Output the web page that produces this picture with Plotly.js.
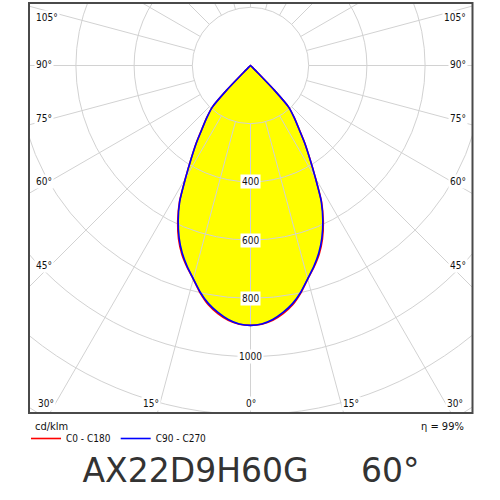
<!DOCTYPE html>
<html>
<head>
<meta charset="utf-8">
<script src="https://cdn.plot.ly/plotly-3.0.1.min.js"></script>
<style>
html, body { margin: 0; padding: 0; width: 500px; height: 500px; overflow: hidden; background: #fff; }
#wrap { position: absolute; left: 0; top: 0; width: 500px; height: 500px; overflow: hidden; }
#chart { position: absolute; left: -200px; top: -385px; width: 901px; height: 901px; }
</style>
</head>
<body>
<div id="wrap"><div id="chart"></div></div>
<script>
// ---- data ----
const gammaDeg = [0, 2.5, 5, 7.5, 10, 12.5, 15, 17.5, 20, 22.5, 25, 27.5, 30, 32.5, 35, 37.5, 40, 42.5, 44, 45, 47.5, 50, 60, 70, 80, 90];
const c0c180  = [893, 890, 879, 860, 835, 800, 760, 726, 690, 646, 592, 529, 447, 380, 325, 273, 234, 195, 120, 35, 8, 0, 0, 0, 0, 0];
const c90c270 = [893, 889, 876, 856, 831, 798, 759, 724, 686, 641, 588, 527, 446, 379, 324, 272, 233, 195, 120, 35, 8, 0, 0, 0, 0, 0];
const ringValues = [200, 400, 600, 800, 1000, 1200, 1400];
const ringLabels = ['400', '600', '800', '1000'];
const ringLabelValues = [400, 600, 800, 1000];
const gridAngles = [0, 15, 30, 45, 60, 75, 90, 105, 120, 135, 150, 165, 180, 195, 210, 225, 240, 255, 270, 285, 300, 315, 330, 345];
const sideLabels = ['105°', '90°', '75°', '60°', '45°'];
const bottomLabels = ['30°', '15°', '0°', '15°', '30°'];
const seriesNames = ['C0 - C180', 'C90 - C270'];
const unitText = 'cd/klm';
const effText = 'η = 99%';
const titleText = 'AX22D9H60G\u00a0\u00a0\u00a0\u00a0\u00a060°';

// ---- geometry of the (oversized) figure ----
const FIG = 901;           // figure size in px
const OX = 200, OY = 385;  // page -> figure offset
const PX_PER_UNIT = 0.291;
const RMAX = (FIG / 2) / PX_PER_UNIT;
const CX = FIG / 2 - OX, CY = FIG / 2 - OY; // polar centre in page px
function fx(px) { return (px + OX) / FIG; }
function fy(py) { return 1 - (py + OY) / FIG; }

function mirror(g, v) {
  const th = g.slice().reverse().map(a => -a).concat(g.slice(1));
  const r = v.slice().reverse().concat(v.slice(1));
  return { th, r };
}
const blue = mirror(gammaDeg, c90c270);
const red = mirror(gammaDeg, c0c180);

const gridTh = [], gridR = [];
gridAngles.forEach(a => { gridTh.push(a, a, null); gridR.push(ringValues[0], RMAX, null); });

const FONT_S = 'DejaVu Sans Condensed, DejaVu Sans, sans-serif';
const traces = [
  { type: 'scatterpolar', subplot: 'polar', theta: blue.th, r: blue.r, mode: 'lines',
    fill: 'toself', fillcolor: '#ffff00', line: { width: 0, color: '#ffff00', shape: 'spline', smoothing: 0.6 }, showlegend: false, hoverinfo: 'skip' },
  { type: 'scatterpolar', subplot: 'polar2', theta: gridTh, r: gridR, mode: 'lines',
    line: { width: 1, color: '#d2d2d2' }, showlegend: false, hoverinfo: 'skip', connectgaps: false },
  { type: 'scatterpolar', subplot: 'polar2', theta: red.th, r: red.r, mode: 'lines', name: seriesNames[0],
    line: { width: 1.6, color: '#ff0000', shape: 'spline', smoothing: 0.6 } },
  { type: 'scatterpolar', subplot: 'polar2', theta: blue.th, r: blue.r, mode: 'lines', name: seriesNames[1],
    line: { width: 1.6, color: '#0000ff', shape: 'spline', smoothing: 0.6 } }
];

const FL = 29, FR = 472.5, FT = 3, FB = 413; // frame in page px
const shapes = [
  { type: 'rect', xref: 'paper', yref: 'paper', x0: 0, x1: fx(FL), y0: 0, y1: 1, fillcolor: '#fff', line: { width: 0 }, layer: 'above' },
  { type: 'rect', xref: 'paper', yref: 'paper', x0: fx(FR), x1: 1, y0: 0, y1: 1, fillcolor: '#fff', line: { width: 0 }, layer: 'above' },
  { type: 'rect', xref: 'paper', yref: 'paper', x0: 0, x1: 1, y0: fy(FT), y1: 1, fillcolor: '#fff', line: { width: 0 }, layer: 'above' },
  { type: 'rect', xref: 'paper', yref: 'paper', x0: 0, x1: 1, y0: 0, y1: fy(FB), fillcolor: '#fff', line: { width: 0 }, layer: 'above' },
  { type: 'rect', xref: 'paper', yref: 'paper', x0: fx(FL), x1: fx(FR), y0: fy(FB), y1: fy(FT), line: { width: 2, color: '#4a4a4a' }, layer: 'above' }
];

const ann = [];
function lab(text, px, py, xa) {
  ann.push({ text, xref: 'paper', yref: 'paper', x: fx(px), y: fy(py), xanchor: xa, yanchor: 'middle',
    showarrow: false, bgcolor: '#fff', borderpad: 1, font: { family: FONT_S, size: 10, color: '#111' } });
}
const sideY = [17, 64.5, 118, 181, 265.5];
sideLabels.forEach((t, i) => { lab(t, 33.5, sideY[i], 'left'); lab(t, 468, sideY[i], 'right'); });
const bottomX = [35.5, 151, 250.5, 351, 465];
const bottomXA = ['left', 'center', 'center', 'center', 'right'];
bottomLabels.forEach((t, i) => lab(t, bottomX[i], 403.3, bottomXA[i]));
ringLabels.forEach((t, i) => lab(t, CX, CY + ringLabelValues[i] * PX_PER_UNIT, 'center'));
ann.push({ text: effText, xref: 'paper', yref: 'paper', x: fx(466), y: fy(426.5), xanchor: 'right', yanchor: 'middle',
  showarrow: false, font: { family: FONT_S, size: 11, color: '#111' } });
ann.push({ text: unitText, xref: 'paper', yref: 'paper', x: fx(33), y: fy(426.5), xanchor: 'left', yanchor: 'middle',
  showarrow: false, font: { family: FONT_S, size: 11, color: '#111' } });

const layout = {
  width: FIG, height: FIG,
  margin: { l: 0, r: 0, t: 0, b: 0, pad: 0 },
  paper_bgcolor: '#fff',
  showlegend: true,
  title: { text: titleText, x: fx(251), y: fy(470.5), xref: 'paper', yref: 'container', xanchor: 'center', yanchor: 'middle',
    font: { family: 'DejaVu Sans, sans-serif', size: 33, color: '#333' } },
  legend: { x: fx(26), y: fy(438.5), xanchor: 'left', yanchor: 'middle', orientation: 'h', bgcolor: 'rgba(0,0,0,0)',
    font: { family: FONT_S, size: 10, color: '#111' }, itemwidth: 30, tracegroupgap: 0, borderwidth: 0 },
  polar: {
    domain: { x: [0, 1], y: [0, 1] }, bgcolor: '#fff',
    radialaxis: { range: [0, RMAX], visible: false, showgrid: false },
    angularaxis: { rotation: -90, direction: 'counterclockwise', visible: false, showgrid: false }
  },
  polar2: {
    domain: { x: [0, 1], y: [0, 1] }, bgcolor: 'rgba(0,0,0,0)',
    radialaxis: { range: [0, RMAX], tickmode: 'array', tickvals: ringValues, showticklabels: false, ticks: '',
      showline: false, showgrid: true, gridcolor: '#d2d2d2', gridwidth: 1 },
    angularaxis: { rotation: -90, direction: 'counterclockwise', showgrid: false, showline: false, showticklabels: false, ticks: '' }
  },
  shapes, annotations: ann
};

Plotly.newPlot('chart', traces, layout, { displayModeBar: false, staticPlot: true });
</script>
</body>
</html>
